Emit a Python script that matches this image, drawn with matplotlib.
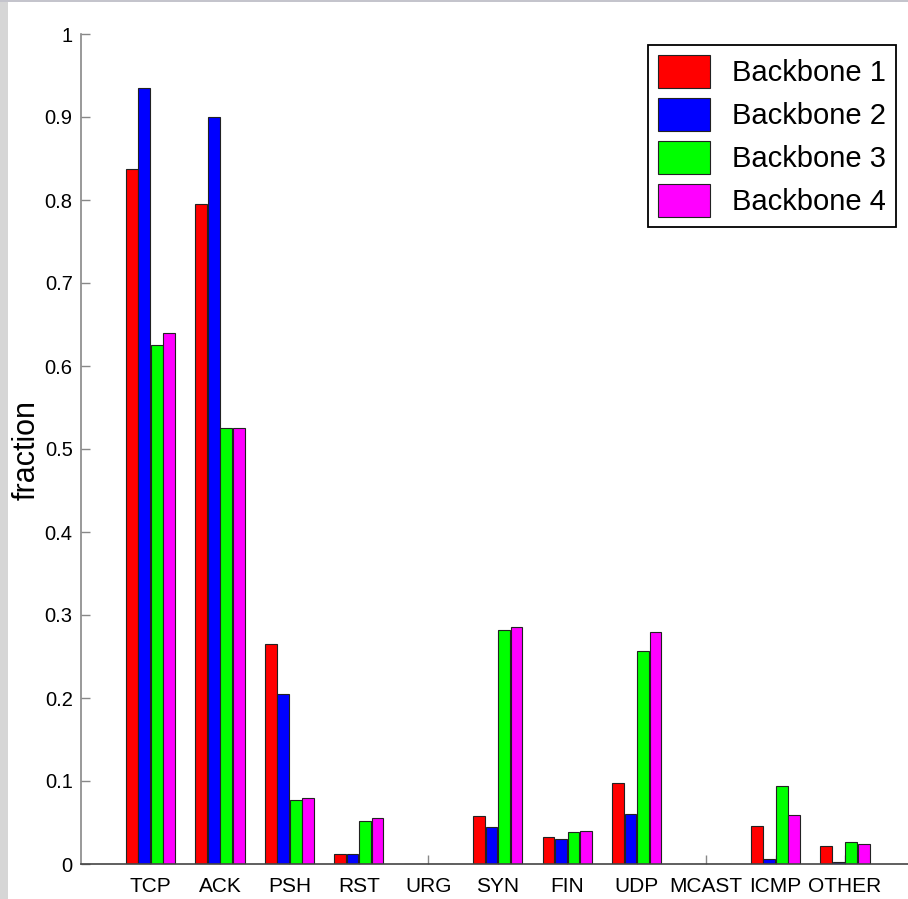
import numpy as np
import matplotlib.pyplot as plt
from matplotlib.patches import Rectangle

#------------------------------------------------------------------------------#
# Data
#------------------------------------------------------------------------------#
categories = ['TCP', 'ACK', 'PSH', 'RST', 'URG', 'SYN', 'FIN', 'UDP', 'MCAST', 'ICMP', 'OTHER']
series_names = ['Backbone 1', 'Backbone 2', 'Backbone 3', 'Backbone 4']

backbone1 = [0.837, 0.795, 0.265, 0.012, 0.0005, 0.058, 0.032, 0.097, 0.0005, 0.046, 0.022]
backbone2 = [0.935, 0.900, 0.205, 0.012, 0.0005, 0.044, 0.030, 0.060, 0.0005, 0.006, 0.002]
backbone3 = [0.625, 0.525, 0.077, 0.052, 0.0005, 0.282, 0.038, 0.257, 0.0005, 0.094, 0.026]
backbone4 = [0.640, 0.525, 0.080, 0.055, 0.0005, 0.285, 0.040, 0.280, 0.0005, 0.059, 0.024]

series = [backbone1, backbone2, backbone3, backbone4]
colors = ['#ff0000', '#0000ff', '#00ff00', '#ff00ff']
yticks = [0, 0.1, 0.2, 0.3, 0.4, 0.5, 0.6, 0.7, 0.8, 0.9, 1]

plt.rcParams['font.family'] = ['Liberation Sans', 'DejaVu Sans']

#------------------------------------------------------------------------------#
# Figure
#------------------------------------------------------------------------------#
W, H = 908, 899
fig = plt.figure(figsize=(W / 100, H / 100), dpi=100)
fig.patch.set_facecolor('white')

# window frame strips
fig.patches.append(Rectangle((0, 0), 8 / W, 1, transform=fig.transFigure,
                             facecolor='#d6d6d6', edgecolor='none', zorder=0))
fig.patches.append(Rectangle((0, 1 - 2 / H), 1, 2 / H, transform=fig.transFigure,
                             facecolor='#c4c4cc', edgecolor='none', zorder=0))

ax_left, ax_right = 81, 914.5
ax_top, ax_bottom = 34, 864
ax = fig.add_axes([ax_left / W, 1 - ax_bottom / H,
                   (ax_right - ax_left) / W, (ax_bottom - ax_top) / H])

x = np.arange(1, len(categories) + 1)
offsets = [-0.27, -0.09, 0.09, 0.27]
width = 0.17
for vals, off, col, name in zip(series, offsets, colors, series_names):
    ax.bar(x + off, vals, width, color=col, edgecolor='#222222', linewidth=0.8, label=name)

ax.set_xlim(0, 12)
ax.set_ylim(0, 1)
ax.set_xticks(x)
ax.set_xticklabels(categories, fontsize=15)
ax.set_yticks(yticks)
ax.set_yticklabels([f'{t:g}' for t in yticks], fontsize=14.5)

# y label placed in figure pixels, left of the tick labels
fig.text(27 / W, 1 - 450 / H, 'fraction', fontsize=22, rotation=90,
         ha='center', va='center')

ax.set_axisbelow(True)
ax.tick_params(axis='both', direction='in', length=6.5, width=1, color='#888888')
ax.tick_params(axis='x', pad=9)
ax.tick_params(axis='y', pad=6)
ax.spines['top'].set_visible(False)
ax.spines['right'].set_visible(False)
ax.spines['left'].set_color('#888888')
ax.spines['bottom'].set_color('#444444')
ax.spines['left'].set_linewidth(1.2)
ax.spines['bottom'].set_linewidth(1.2)

leg = ax.legend(loc='upper left', bbox_to_anchor=(648 / W, 1 - 45 / H),
                bbox_transform=fig.transFigure, fontsize=21, frameon=True,
                fancybox=False, framealpha=1, edgecolor='black', borderaxespad=0,
                handlelength=1.78, handleheight=1.36, labelspacing=0.34,
                handletextpad=0.75, borderpad=0.35)
leg.get_frame().set_linewidth(1.3)

fig.savefig('out.png', dpi=100)
